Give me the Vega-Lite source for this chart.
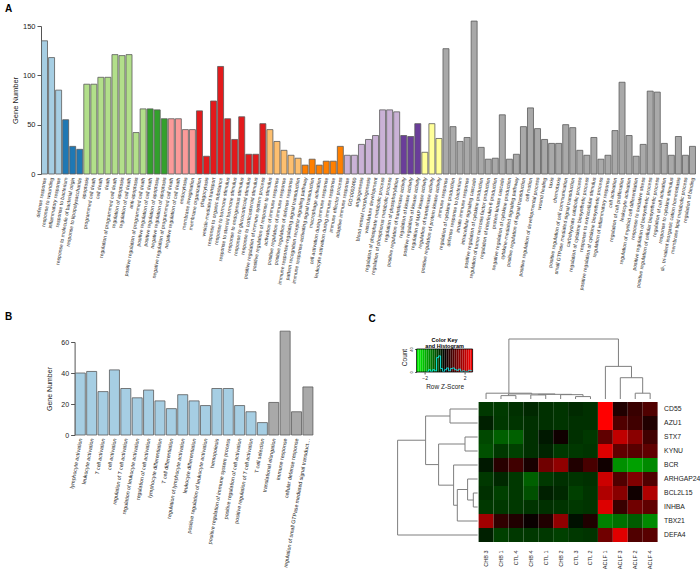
{
  "$schema": "https://vega.github.io/schema/vega-lite/v6.json",
  "padding": {"left": 5, "top": 3, "right": 0, "bottom": 0},
  "config": {
    "font": "Liberation Sans",
    "view": {"stroke": null},
    "axis": {"grid": false, "labelFont": "Liberation Sans", "titleFont": "Liberation Sans", "titleFontWeight": "normal", "labelColor": "#222222", "titleColor": "#222222", "domainColor": "#555555", "tickColor": "#555555"},
    "title": {"font": "Liberation Sans", "fontWeight": "bold", "color": "#000000"}
  },
  "resolve": {"scale": {"fill": "independent"}},
  "spacing": 21,
  "vconcat": [
    {
      "width": 655,
      "height": 148,
      "title": {"text": "A", "anchor": "start", "frame": "group", "dx": -36, "fontSize": 10, "offset": 7},
      "data": {"values": [
        {"term": "defense response", "genes": 135, "cl": "c1"},
        {"term": "response to wounding", "genes": 118, "cl": "c1"},
        {"term": "inflammatory response", "genes": 85, "cl": "c1"},
        {"term": "response to bacterium", "genes": 55, "cl": "c2"},
        {"term": "response to molecule of bacterial origin", "genes": 28, "cl": "c2"},
        {"term": "response to lipopolysaccharide", "genes": 25, "cl": "c2"},
        {"term": "apoptosis", "genes": 91, "cl": "c3"},
        {"term": "programmed cell death", "genes": 91, "cl": "c3"},
        {"term": "cell death", "genes": 98, "cl": "c3"},
        {"term": "death", "genes": 98, "cl": "c3"},
        {"term": "regulation of programmed cell death", "genes": 121, "cl": "c3"},
        {"term": "regulation of apoptosis", "genes": 120, "cl": "c3"},
        {"term": "regulation of cell death", "genes": 121, "cl": "c3"},
        {"term": "anti-apoptosis", "genes": 42, "cl": "c3"},
        {"term": "positive regulation of programmed cell death", "genes": 66, "cl": "c3"},
        {"term": "positive regulation of cell death", "genes": 66, "cl": "c4"},
        {"term": "positive regulation of apoptosis", "genes": 65, "cl": "c4"},
        {"term": "negative regulation of apoptosis", "genes": 56, "cl": "c4"},
        {"term": "negative regulation of programmed cell death", "genes": 56, "cl": "c5"},
        {"term": "negative regulation of cell death", "genes": 56, "cl": "c5"},
        {"term": "endocytosis", "genes": 45, "cl": "c5"},
        {"term": "membrane invagination", "genes": 45, "cl": "c5"},
        {"term": "membrane organization", "genes": 64, "cl": "c6"},
        {"term": "phagocytosis", "genes": 18, "cl": "c6"},
        {"term": "vesicle-mediated transport", "genes": 74, "cl": "c6"},
        {"term": "response to organic substance", "genes": 109, "cl": "c6"},
        {"term": "response to hormone stimulus", "genes": 56, "cl": "c6"},
        {"term": "response to steroid hormone stimulus", "genes": 35, "cl": "c6"},
        {"term": "response to endogenous stimulus", "genes": 58, "cl": "c6"},
        {"term": "response to glucocorticoid stimulus", "genes": 20, "cl": "c6"},
        {"term": "response to corticosteroid stimulus", "genes": 20, "cl": "c6"},
        {"term": "positive regulation of immune system process", "genes": 51, "cl": "c6"},
        {"term": "positive regulation of response to stimulus", "genes": 45, "cl": "c7"},
        {"term": "activation of immune response", "genes": 33, "cl": "c7"},
        {"term": "positive regulation of immune response", "genes": 24, "cl": "c7"},
        {"term": "positive regulation of defense response", "genes": 19, "cl": "c7"},
        {"term": "immune response-regulating signal transduction", "genes": 16, "cl": "c7"},
        {"term": "pattern recognition receptor signaling pathway", "genes": 9, "cl": "c8"},
        {"term": "immune response-activating signal transduction", "genes": 15, "cl": "c8"},
        {"term": "macrophage activation", "genes": 9, "cl": "c8"},
        {"term": "cell activation during immune response", "genes": 13, "cl": "c8"},
        {"term": "leukocyte activation during immune response", "genes": 13, "cl": "c8"},
        {"term": "immune effector process", "genes": 28, "cl": "c8"},
        {"term": "adaptive immune response", "genes": 19, "cl": "c9"},
        {"term": "GO:0002460", "genes": 19, "cl": "c9"},
        {"term": "angiogenesis", "genes": 30, "cl": "c9"},
        {"term": "blood vessel morphogenesis", "genes": 35, "cl": "c9"},
        {"term": "vasculature development", "genes": 39, "cl": "c9"},
        {"term": "regulation of phosphate metabolic process", "genes": 65, "cl": "c9"},
        {"term": "regulation of phosphorus metabolic process", "genes": 65, "cl": "c9"},
        {"term": "regulation of phosphorylation", "genes": 63, "cl": "c9"},
        {"term": "positive regulation of transferase activity", "genes": 39, "cl": "c10"},
        {"term": "regulation of kinase activity", "genes": 38, "cl": "c10"},
        {"term": "positive regulation of kinase activity", "genes": 51, "cl": "c10"},
        {"term": "regulation of MAP kinase activity", "genes": 22, "cl": "c11"},
        {"term": "regulation of transferase activity", "genes": 51, "cl": "c11"},
        {"term": "positive regulation of protein kinase activity", "genes": 36, "cl": "c11"},
        {"term": "immune response", "genes": 127, "cl": "c12"},
        {"term": "regulation of cytokine production", "genes": 48, "cl": "c12"},
        {"term": "defense response to bacterium", "genes": 33, "cl": "c12"},
        {"term": "innate immune response", "genes": 37, "cl": "c12"},
        {"term": "intracellular signaling cascade", "genes": 155, "cl": "c12"},
        {"term": "positive regulation of cytokine production", "genes": 27, "cl": "c12"},
        {"term": "regulation of tumor necrosis factor production", "genes": 15, "cl": "c12"},
        {"term": "regulation of interleukin-6 production", "genes": 16, "cl": "c12"},
        {"term": "protein kinase cascade", "genes": 60, "cl": "c12"},
        {"term": "negative regulation of cytokine production", "genes": 15, "cl": "c12"},
        {"term": "cytokine-mediated signaling pathway", "genes": 20, "cl": "c12"},
        {"term": "positive regulation of signal transduction", "genes": 48, "cl": "c12"},
        {"term": "cell motion", "genes": 67, "cl": "c12"},
        {"term": "positive regulation of developmental process", "genes": 46, "cl": "c12"},
        {"term": "wound healing", "genes": 35, "cl": "c12"},
        {"term": "taxis", "genes": 31, "cl": "c12"},
        {"term": "chemotaxis", "genes": 31, "cl": "c12"},
        {"term": "positive regulation of cell communication", "genes": 50, "cl": "c12"},
        {"term": "small GTPase mediated signal transduction", "genes": 47, "cl": "c12"},
        {"term": "carbohydrate catabolic process", "genes": 24, "cl": "c12"},
        {"term": "regulation of cytokine biosynthetic process", "genes": 19, "cl": "c12"},
        {"term": "response to extracellular stimulus", "genes": 37, "cl": "c12"},
        {"term": "positive regulation of cytokine biosynthetic process", "genes": 15, "cl": "c12"},
        {"term": "regulation of inflammatory response", "genes": 19, "cl": "c12"},
        {"term": "cell activation", "genes": 44, "cl": "c12"},
        {"term": "regulation of cell proliferation", "genes": 93, "cl": "c12"},
        {"term": "leukocyte activation", "genes": 39, "cl": "c12"},
        {"term": "regulation of myeloid cell differentiation", "genes": 18, "cl": "c12"},
        {"term": "response to oxidative stress", "genes": 30, "cl": "c12"},
        {"term": "positive regulation of biosynthetic process", "genes": 84, "cl": "c12"},
        {"term": "positive regulation of cellular biosynthetic process", "genes": 83, "cl": "c12"},
        {"term": "regulation of cell activation", "genes": 31, "cl": "c12"},
        {"term": "response to cytokine stimulus", "genes": 19, "cl": "c12"},
        {"term": "di-, tri-valent inorganic cation homeostasis", "genes": 38, "cl": "c12"},
        {"term": "membrane lipid metabolic process", "genes": 19, "cl": "c12"},
        {"term": "regulation of binding", "genes": 28, "cl": "c12"}
      ]},
      "mark": {"type": "bar", "stroke": "#5a5a5a", "strokeWidth": 0.8},
      "encoding": {
        "x": {"field": "term", "type": "nominal", "sort": null, "scale": {"paddingInner": 0.15, "paddingOuter": 0.075},
              "axis": {"title": null, "labelAngle": -80, "labelFontSize": 5.1, "labelPadding": 3, "ticks": false, "domain": false, "labelLimit": 200}},
        "y": {"field": "genes", "type": "quantitative", "scale": {"domain": [0, 150], "nice": false},
              "axis": {"title": "Gene Number", "values": [0, 50, 100, 150], "labelFontSize": 7.5, "titleFontSize": 7.5, "tickSize": 4, "labelPadding": 2, "titlePadding": 3}},
        "fill": {"field": "cl", "type": "nominal", "legend": null,
                 "scale": {"domain": ["c1","c2","c3","c4","c5","c6","c7","c8","c9","c10","c11","c12"],
                           "range": ["#a6cee3","#1f78b4","#b2df8a","#33a02c","#fb9a99","#e31a1c","#fdbf6f","#ff7f00","#cab2d6","#6a3d9a","#ffff99","#a9a9a9"]}}
      }
    },
    {
      "resolve": {"scale": {"fill": "independent"}},
      "spacing": 3.6,
      "hconcat": [
        {
          "width": 1,
          "height": 1,
          "title": {"text": "B", "anchor": "start", "frame": "group", "dx": -36, "fontSize": 10, "offset": 20},
          "data": {"values": []},
          "mark": {"type": "point", "opacity": 0}
        },
        {
          "resolve": {"scale": {"fill": "independent"}},
          "spacing": 55,
          "hconcat": [
            {
              "width": 239,
              "height": 93,
              "data": {"values": [
                {"term": "lymphocyte activation", "genes": 40, "grp": "a"},
                {"term": "leukocyte activation", "genes": 41, "grp": "a"},
                {"term": "T cell activation", "genes": 28, "grp": "a"},
                {"term": "cell activation", "genes": 42, "grp": "a"},
                {"term": "regulation of T cell activation", "genes": 30, "grp": "a"},
                {"term": "regulation of leukocyte activation", "genes": 24, "grp": "a"},
                {"term": "regulation of cell activation", "genes": 29, "grp": "a"},
                {"term": "lymphocyte differentiation", "genes": 22, "grp": "a"},
                {"term": "T cell differentiation", "genes": 17, "grp": "a"},
                {"term": "regulation of lymphocyte activation", "genes": 26, "grp": "a"},
                {"term": "leukocyte differentiation", "genes": 22, "grp": "a"},
                {"term": "positive regulation of leukocyte activation", "genes": 19, "grp": "a"},
                {"term": "hemopoiesis", "genes": 30, "grp": "a"},
                {"term": "positive regulation of immune system process", "genes": 30, "grp": "a"},
                {"term": "positive regulation of cell activation", "genes": 19, "grp": "a"},
                {"term": "positive regulation of T cell activation", "genes": 15, "grp": "a"},
                {"term": "T cell selection", "genes": 8, "grp": "a"},
                {"term": "translational elongation", "genes": 21, "grp": "b"},
                {"term": "immune response", "genes": 67, "grp": "b"},
                {"term": "cellular defense response", "genes": 15, "grp": "b"},
                {"term": "regulation of small GTPase mediated signal transduction", "genes": 31, "grp": "b"}
              ]},
              "mark": {"type": "bar", "stroke": "#5a5a5a", "strokeWidth": 0.8},
              "encoding": {
                "x": {"field": "term", "type": "nominal", "sort": null, "scale": {"paddingInner": 0.12, "paddingOuter": 0.06},
                      "axis": {"title": null, "labelAngle": -80, "labelFontSize": 5.3, "labelPadding": 3, "ticks": false, "domain": false, "labelLimit": 132}},
                "y": {"field": "genes", "type": "quantitative", "scale": {"domain": [0, 60], "nice": false},
                      "axis": {"title": "Gene Number", "values": [0, 20, 40, 60], "labelFontSize": 7, "titleFontSize": 7, "tickSize": 4, "labelPadding": 2, "titlePadding": 8}},
                "fill": {"field": "grp", "type": "nominal", "legend": null, "scale": {"domain": ["a", "b"], "range": ["#a6cee3", "#a9a9a9"]}}
              }
            },
            {
              "title": {"text": "C", "anchor": "start", "frame": "group", "dx": -28, "fontSize": 10, "offset": 14},
              "resolve": {"scale": {"fill": "independent"}},
              "columns": 2,
              "align": "each",
              "spacing": {"row": 2, "column": 0},
              "concat": [
                {
                  "width": 76,
                  "height": 30,
                  "title": {"text": ["Color Key", "and Histogram"], "fontSize": 5.5, "anchor": "middle", "offset": -7, "dx": 10, "lineHeight": 6},
                  "layer": [
                    {
                      "data": {"values": [
                        {"z0": -2.8, "z1": -2.6, "zc": -2.7}, {"z0": -2.6, "z1": -2.4, "zc": -2.5},
                        {"z0": -2.4, "z1": -2.2, "zc": -2.3}, {"z0": -2.2, "z1": -2.0, "zc": -2.1},
                        {"z0": -2.0, "z1": -1.8, "zc": -1.9}, {"z0": -1.8, "z1": -1.6, "zc": -1.7},
                        {"z0": -1.6, "z1": -1.4, "zc": -1.5}, {"z0": -1.4, "z1": -1.2, "zc": -1.3},
                        {"z0": -1.2, "z1": -1.0, "zc": -1.1}, {"z0": -1.0, "z1": -0.8, "zc": -0.9},
                        {"z0": -0.8, "z1": -0.6, "zc": -0.7}, {"z0": -0.6, "z1": -0.4, "zc": -0.5},
                        {"z0": -0.4, "z1": -0.2, "zc": -0.3}, {"z0": -0.2, "z1": 0.0, "zc": -0.1},
                        {"z0": 0.0, "z1": 0.2, "zc": 0.1}, {"z0": 0.2, "z1": 0.4, "zc": 0.3},
                        {"z0": 0.4, "z1": 0.6, "zc": 0.5}, {"z0": 0.6, "z1": 0.8, "zc": 0.7},
                        {"z0": 0.8, "z1": 1.0, "zc": 0.9}, {"z0": 1.0, "z1": 1.2, "zc": 1.1},
                        {"z0": 1.2, "z1": 1.4, "zc": 1.3}, {"z0": 1.4, "z1": 1.6, "zc": 1.5},
                        {"z0": 1.6, "z1": 1.8, "zc": 1.7}, {"z0": 1.8, "z1": 2.0, "zc": 1.9},
                        {"z0": 2.0, "z1": 2.2, "zc": 2.1}, {"z0": 2.2, "z1": 2.4, "zc": 2.3},
                        {"z0": 2.4, "z1": 2.6, "zc": 2.5}, {"z0": 2.6, "z1": 2.8, "zc": 2.7}
                      ]},
                      "mark": {"type": "rect"},
                      "encoding": {
                        "x": {"field": "z0", "type": "quantitative", "title": "Row Z-Score", "scale": {"domain": [-4.8, 2.8], "nice": false, "zero": false},
                              "axis": {"values": [-2, -1, 0, 1, 2], "labelFontSize": 5, "titleFontSize": 6.5, "tickSize": 2, "labelPadding": 1, "titlePadding": 3, "domain": false, "titleX": 48}},
                        "x2": {"field": "z1"},
                        "y": {"datum": 0, "type": "quantitative", "title": "Count", "scale": {"domain": [0, 52.2], "nice": false},
                              "axis": {"values": [0, 20, 40], "labelFontSize": 4, "labelAngle": -90, "titleFontSize": 6.5, "tickSize": 2, "labelPadding": 1, "titlePadding": 2, "domain": false, "offset": -20}},
                        "y2": {"datum": 40},
                        "fill": {"field": "zc", "type": "quantitative", "legend": null,
                                 "scale": {"domain": [-2.8, 0, 2.8], "range": ["#00ff00", "#000000", "#ff0000"], "interpolate": "rgb"}}
                      }
                    },
                    {
                      "data": {"values": [
                        {"z": -1.8, "count": 1}, {"z": -1.6, "count": 4}, {"z": -1.4, "count": 1},
                        {"z": -1.2, "count": 4}, {"z": -1.0, "count": 2}, {"z": -0.8, "count": 25},
                        {"z": -0.6, "count": 28}, {"z": -0.4, "count": 6}, {"z": -0.2, "count": 1},
                        {"z": 0.0, "count": 4}, {"z": 0.2, "count": 7}, {"z": 0.4, "count": 2},
                        {"z": 0.6, "count": 6}, {"z": 0.8, "count": 7}, {"z": 1.0, "count": 4},
                        {"z": 1.2, "count": 3}, {"z": 1.4, "count": 5}, {"z": 1.6, "count": 1},
                        {"z": 1.8, "count": 2}, {"z": 2.0, "count": 1}, {"z": 2.2, "count": 1},
                        {"z": 2.4, "count": 3}, {"z": 2.6, "count": 2}, {"z": 2.8, "count": 2}
                      ]},
                      "mark": {"type": "line", "interpolate": "step-after", "color": "#00ffff", "strokeWidth": 0.8},
                      "encoding": {
                        "x": {"field": "z", "type": "quantitative", "title": "Row Z-Score"},
                        "y": {"field": "count", "type": "quantitative", "title": "Count"}
                      }
                    },
                    {
                      "data": {"values": [{"lo": -2.8, "hi": 2.8, "c0": 0, "c1": 40}]},
                      "mark": {"type": "rect", "fillOpacity": 0, "stroke": "#000000", "strokeWidth": 0.8},
                      "encoding": {
                        "x": {"field": "lo", "type": "quantitative", "title": "Row Z-Score"},
                        "x2": {"field": "hi"},
                        "y": {"field": "c0", "type": "quantitative", "title": "Count"},
                        "y2": {"field": "c1"}
                      }
                    }
                  ]
                },
                {
                  "width": 179,
                  "height": 57,
                  "data": {"values": [
                    {"x": 1, "x2": 1, "y": 0, "y2": 3.5}, {"x": 2, "x2": 2, "y": 0, "y2": 3.5}, {"x": 1, "x2": 2, "y": 3.5, "y2": 3.5},
                    {"x": 3, "x2": 3, "y": 0, "y2": 4.2}, {"x": 4, "x2": 4, "y": 0, "y2": 4.2}, {"x": 3, "x2": 4, "y": 4.2, "y2": 4.2},
                    {"x": 6, "x2": 6, "y": 0, "y2": 2.5}, {"x": 7, "x2": 7, "y": 0, "y2": 2.5}, {"x": 6, "x2": 7, "y": 2.5, "y2": 2.5},
                    {"x": 5, "x2": 5, "y": 0, "y2": 4.5}, {"x": 6.5, "x2": 6.5, "y": 2.5, "y2": 4.5}, {"x": 5, "x2": 6.5, "y": 4.5, "y2": 4.5},
                    {"x": 3.5, "x2": 3.5, "y": 4.2, "y2": 4.8}, {"x": 5.75, "x2": 5.75, "y": 4.5, "y2": 4.8}, {"x": 3.5, "x2": 5.75, "y": 4.8, "y2": 4.8},
                    {"x": 1.5, "x2": 1.5, "y": 3.5, "y2": 5.2}, {"x": 4.625, "x2": 4.625, "y": 4.8, "y2": 5.2}, {"x": 1.5, "x2": 4.625, "y": 5.2, "y2": 5.2},
                    {"x": 0, "x2": 0, "y": 0, "y2": 6}, {"x": 3.06, "x2": 3.06, "y": 5.2, "y2": 6}, {"x": 0, "x2": 3.06, "y": 6, "y2": 6},
                    {"x": 10, "x2": 10, "y": 0, "y2": 6}, {"x": 11, "x2": 11, "y": 0, "y2": 6}, {"x": 10, "x2": 11, "y": 6, "y2": 6},
                    {"x": 9, "x2": 9, "y": 0, "y2": 22}, {"x": 10.5, "x2": 10.5, "y": 6, "y2": 22}, {"x": 9, "x2": 10.5, "y": 22, "y2": 22},
                    {"x": 8, "x2": 8, "y": 0, "y2": 33.7}, {"x": 9.75, "x2": 9.75, "y": 22, "y2": 33.7}, {"x": 8, "x2": 9.75, "y": 33.7, "y2": 33.7},
                    {"x": 1.53, "x2": 1.53, "y": 6, "y2": 62}, {"x": 8.875, "x2": 8.875, "y": 33.7, "y2": 62}, {"x": 1.53, "x2": 8.875, "y": 62, "y2": 62}
                  ]},
                  "mark": {"type": "rule", "color": "#7f7f7f", "strokeWidth": 1},
                  "encoding": {
                    "x": {"field": "x", "type": "quantitative", "scale": {"domain": [-0.5, 11.5], "nice": false, "zero": false}, "axis": null},
                    "x2": {"field": "x2"},
                    "y": {"field": "y", "type": "quantitative", "scale": {"domain": [0, 58.9], "nice": false}, "axis": null},
                    "y2": {"field": "y2"}
                  }
                },
                {
                  "width": 81,
                  "height": 140,
                  "data": {"values": [
                    {"d": 0, "d2": 27.6, "r": 0, "r2": 0}, {"d": 0, "d2": 27.6, "r": 1, "r2": 1}, {"d": 27.6, "d2": 27.6, "r": 0, "r2": 1},
                    {"d": 0, "d2": 12.6, "r": 2, "r2": 2}, {"d": 0, "d2": 12.6, "r": 3, "r2": 3}, {"d": 12.6, "d2": 12.6, "r": 2, "r2": 3},
                    {"d": 0, "d2": 4.3, "r": 6, "r2": 6}, {"d": 0, "d2": 4.3, "r": 7, "r2": 7}, {"d": 4.3, "d2": 4.3, "r": 6, "r2": 7},
                    {"d": 0, "d2": 10, "r": 5, "r2": 5}, {"d": 4.3, "d2": 10, "r": 6.5, "r2": 6.5}, {"d": 10, "d2": 10, "r": 5, "r2": 6.5},
                    {"d": 10, "d2": 20.3, "r": 5.75, "r2": 5.75}, {"d": 0, "d2": 20.3, "r": 8, "r2": 8}, {"d": 20.3, "d2": 20.3, "r": 5.75, "r2": 8},
                    {"d": 0, "d2": 24, "r": 4, "r2": 4}, {"d": 20.3, "d2": 24, "r": 6.875, "r2": 6.875}, {"d": 24, "d2": 24, "r": 4, "r2": 6.875},
                    {"d": 12.6, "d2": 39, "r": 2.5, "r2": 2.5}, {"d": 24, "d2": 39, "r": 5.44, "r2": 5.44}, {"d": 39, "d2": 39, "r": 2.5, "r2": 5.44},
                    {"d": 27.6, "d2": 52, "r": 0.5, "r2": 0.5}, {"d": 39, "d2": 52, "r": 3.97, "r2": 3.97}, {"d": 52, "d2": 52, "r": 0.5, "r2": 3.97},
                    {"d": 52, "d2": 80, "r": 2.23, "r2": 2.23}, {"d": 0, "d2": 80, "r": 9, "r2": 9}, {"d": 80, "d2": 80, "r": 2.23, "r2": 9}
                  ]},
                  "mark": {"type": "rule", "color": "#7f7f7f", "strokeWidth": 1},
                  "encoding": {
                    "x": {"field": "d", "type": "quantitative", "scale": {"domain": [0, 81], "nice": false, "reverse": true}, "axis": null},
                    "x2": {"field": "d2"},
                    "y": {"field": "r", "type": "quantitative", "scale": {"domain": [-0.5, 9.5], "nice": false, "zero": false, "reverse": true}, "axis": null},
                    "y2": {"field": "r2"}
                  }
                },
                {
                  "width": 179,
                  "height": 140,
                  "data": {"values": [
                    {"gene": "CD55", "sample": "CHB 3", "z": -0.61}, {"gene": "CD55", "sample": "CHB 1", "z": -0.64}, {"gene": "CD55", "sample": "CTL 4", "z": -0.53}, {"gene": "CD55", "sample": "CHB 4", "z": -0.44}, {"gene": "CD55", "sample": "CTL 1", "z": -0.53}, {"gene": "CD55", "sample": "CHB 2", "z": -0.57}, {"gene": "CD55", "sample": "CTL 3", "z": -0.46}, {"gene": "CD55", "sample": "CTL 2", "z": -0.53}, {"gene": "CD55", "sample": "ACLF 1", "z": 2.8}, {"gene": "CD55", "sample": "ACLF 3", "z": 0.35}, {"gene": "CD55", "sample": "ACLF 2", "z": 0.61}, {"gene": "CD55", "sample": "ACLF 4", "z": 0.88},
                    {"gene": "AZU1", "sample": "CHB 3", "z": -0.35}, {"gene": "AZU1", "sample": "CHB 1", "z": -0.61}, {"gene": "AZU1", "sample": "CTL 4", "z": -0.57}, {"gene": "AZU1", "sample": "CHB 4", "z": -0.53}, {"gene": "AZU1", "sample": "CTL 1", "z": -0.53}, {"gene": "AZU1", "sample": "CHB 2", "z": -0.57}, {"gene": "AZU1", "sample": "CTL 3", "z": -0.53}, {"gene": "AZU1", "sample": "CTL 2", "z": -0.53}, {"gene": "AZU1", "sample": "ACLF 1", "z": 2.8}, {"gene": "AZU1", "sample": "ACLF 3", "z": 0.88}, {"gene": "AZU1", "sample": "ACLF 2", "z": 0.7}, {"gene": "AZU1", "sample": "ACLF 4", "z": 0.35},
                    {"gene": "STX7", "sample": "CHB 3", "z": -0.79}, {"gene": "STX7", "sample": "CHB 1", "z": -1.05}, {"gene": "STX7", "sample": "CTL 4", "z": -1.05}, {"gene": "STX7", "sample": "CHB 4", "z": -0.53}, {"gene": "STX7", "sample": "CTL 1", "z": -0.26}, {"gene": "STX7", "sample": "CHB 2", "z": 0.18}, {"gene": "STX7", "sample": "CTL 3", "z": -0.53}, {"gene": "STX7", "sample": "CTL 2", "z": -0.61}, {"gene": "STX7", "sample": "ACLF 1", "z": 1.05}, {"gene": "STX7", "sample": "ACLF 3", "z": 2.11}, {"gene": "STX7", "sample": "ACLF 2", "z": 1.52}, {"gene": "STX7", "sample": "ACLF 4", "z": 0.7},
                    {"gene": "KYNU", "sample": "CHB 3", "z": -0.88}, {"gene": "KYNU", "sample": "CHB 1", "z": -0.61}, {"gene": "KYNU", "sample": "CTL 4", "z": -0.7}, {"gene": "KYNU", "sample": "CHB 4", "z": -0.53}, {"gene": "KYNU", "sample": "CTL 1", "z": -0.4}, {"gene": "KYNU", "sample": "CHB 2", "z": -0.61}, {"gene": "KYNU", "sample": "CTL 3", "z": -0.61}, {"gene": "KYNU", "sample": "CTL 2", "z": -0.57}, {"gene": "KYNU", "sample": "ACLF 1", "z": 2.43}, {"gene": "KYNU", "sample": "ACLF 3", "z": 1.05}, {"gene": "KYNU", "sample": "ACLF 2", "z": 0.97}, {"gene": "KYNU", "sample": "ACLF 4", "z": 1.05},
                    {"gene": "BCR", "sample": "CHB 3", "z": -0.26}, {"gene": "BCR", "sample": "CHB 1", "z": 0.44}, {"gene": "BCR", "sample": "CTL 4", "z": 0.7}, {"gene": "BCR", "sample": "CHB 4", "z": 0.26}, {"gene": "BCR", "sample": "CTL 1", "z": 1.23}, {"gene": "BCR", "sample": "CHB 2", "z": 1.58}, {"gene": "BCR", "sample": "CTL 3", "z": 0.35}, {"gene": "BCR", "sample": "CTL 2", "z": 0.79}, {"gene": "BCR", "sample": "ACLF 1", "z": 0.18}, {"gene": "BCR", "sample": "ACLF 3", "z": -1.58}, {"gene": "BCR", "sample": "ACLF 2", "z": -1.76}, {"gene": "BCR", "sample": "ACLF 4", "z": -1.52},
                    {"gene": "ARHGAP24", "sample": "CHB 3", "z": -0.61}, {"gene": "ARHGAP24", "sample": "CHB 1", "z": -0.44}, {"gene": "ARHGAP24", "sample": "CTL 4", "z": -0.61}, {"gene": "ARHGAP24", "sample": "CHB 4", "z": -1.05}, {"gene": "ARHGAP24", "sample": "CTL 1", "z": -0.61}, {"gene": "ARHGAP24", "sample": "CHB 2", "z": -0.53}, {"gene": "ARHGAP24", "sample": "CTL 3", "z": -0.57}, {"gene": "ARHGAP24", "sample": "CTL 2", "z": -0.53}, {"gene": "ARHGAP24", "sample": "ACLF 1", "z": 2.24}, {"gene": "ARHGAP24", "sample": "ACLF 3", "z": 0.88}, {"gene": "ARHGAP24", "sample": "ACLF 2", "z": 1.41}, {"gene": "ARHGAP24", "sample": "ACLF 4", "z": 0.88},
                    {"gene": "BCL2L15", "sample": "CHB 3", "z": -0.53}, {"gene": "BCL2L15", "sample": "CHB 1", "z": -0.7}, {"gene": "BCL2L15", "sample": "CTL 4", "z": -0.61}, {"gene": "BCL2L15", "sample": "CHB 4", "z": -0.88}, {"gene": "BCL2L15", "sample": "CTL 1", "z": -0.35}, {"gene": "BCL2L15", "sample": "CHB 2", "z": -0.44}, {"gene": "BCL2L15", "sample": "CTL 3", "z": -0.7}, {"gene": "BCL2L15", "sample": "CTL 2", "z": -0.57}, {"gene": "BCL2L15", "sample": "ACLF 1", "z": 1.93}, {"gene": "BCL2L15", "sample": "ACLF 3", "z": 1.49}, {"gene": "BCL2L15", "sample": "ACLF 2", "z": 0.18}, {"gene": "BCL2L15", "sample": "ACLF 4", "z": 1.93},
                    {"gene": "INHBA", "sample": "CHB 3", "z": -0.61}, {"gene": "INHBA", "sample": "CHB 1", "z": -0.61}, {"gene": "INHBA", "sample": "CTL 4", "z": -0.61}, {"gene": "INHBA", "sample": "CHB 4", "z": -0.57}, {"gene": "INHBA", "sample": "CTL 1", "z": -0.53}, {"gene": "INHBA", "sample": "CHB 2", "z": -0.57}, {"gene": "INHBA", "sample": "CTL 3", "z": -0.61}, {"gene": "INHBA", "sample": "CTL 2", "z": -0.57}, {"gene": "INHBA", "sample": "ACLF 1", "z": 2.43}, {"gene": "INHBA", "sample": "ACLF 3", "z": 0.61}, {"gene": "INHBA", "sample": "ACLF 2", "z": 1.23}, {"gene": "INHBA", "sample": "ACLF 4", "z": 1.05},
                    {"gene": "TBX21", "sample": "CHB 3", "z": 1.76}, {"gene": "TBX21", "sample": "CHB 1", "z": 0.53}, {"gene": "TBX21", "sample": "CTL 4", "z": 0.35}, {"gene": "TBX21", "sample": "CHB 4", "z": 0.11}, {"gene": "TBX21", "sample": "CTL 1", "z": 0.35}, {"gene": "TBX21", "sample": "CHB 2", "z": 1.58}, {"gene": "TBX21", "sample": "CTL 3", "z": -0.18}, {"gene": "TBX21", "sample": "CTL 2", "z": 0.35}, {"gene": "TBX21", "sample": "ACLF 1", "z": -1.41}, {"gene": "TBX21", "sample": "ACLF 3", "z": -1.23}, {"gene": "TBX21", "sample": "ACLF 2", "z": -1.01}, {"gene": "TBX21", "sample": "ACLF 4", "z": -1.52},
                    {"gene": "DEFA4", "sample": "CHB 3", "z": -0.35}, {"gene": "DEFA4", "sample": "CHB 1", "z": -0.7}, {"gene": "DEFA4", "sample": "CTL 4", "z": -0.61}, {"gene": "DEFA4", "sample": "CHB 4", "z": -0.61}, {"gene": "DEFA4", "sample": "CTL 1", "z": -0.61}, {"gene": "DEFA4", "sample": "CHB 2", "z": -0.7}, {"gene": "DEFA4", "sample": "CTL 3", "z": -0.61}, {"gene": "DEFA4", "sample": "CTL 2", "z": -0.57}, {"gene": "DEFA4", "sample": "ACLF 1", "z": 1.23}, {"gene": "DEFA4", "sample": "ACLF 3", "z": 2.46}, {"gene": "DEFA4", "sample": "ACLF 2", "z": 0.88}, {"gene": "DEFA4", "sample": "ACLF 4", "z": 0.97}
                  ]},
                  "mark": {"type": "rect"},
                  "encoding": {
                    "x": {"field": "sample", "type": "nominal", "sort": null, "scale": {"paddingInner": 0, "paddingOuter": 0},
                          "axis": {"orient": "bottom", "title": null, "labelAngle": -90, "labelFontSize": 5.5, "labelPadding": 8, "ticks": false, "domain": false}},
                    "y": {"field": "gene", "type": "nominal", "sort": null, "scale": {"paddingInner": 0, "paddingOuter": 0},
                          "axis": {"orient": "right", "title": null, "labelFontSize": 6.8, "labelPadding": 6, "ticks": false, "domain": false}},
                    "fill": {"field": "z", "type": "quantitative", "legend": null,
                             "scale": {"domain": [-2.8, 0, 2.8], "range": ["#00ff00", "#000000", "#ff0000"], "interpolate": "rgb"}}
                  }
                }
              ]
            }
          ]
        }
      ]
    }
  ]
}
